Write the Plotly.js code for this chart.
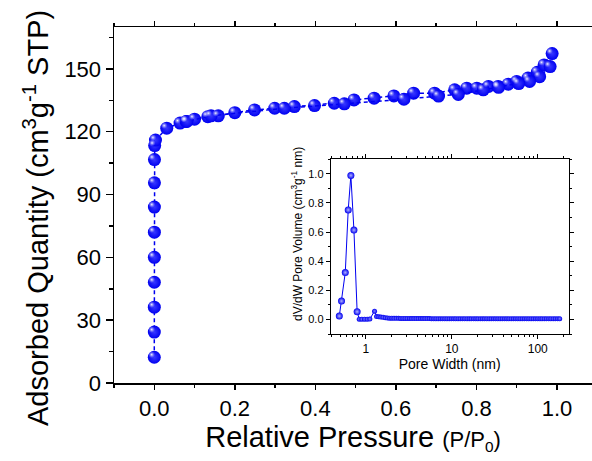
<!DOCTYPE html>
<html>
<head>
<meta charset="utf-8">
<script src="https://cdn.plot.ly/plotly-3.0.1.min.js"></script>
<style>html,body{margin:0;padding:0;background:#fff;}#chart{width:592px;height:461px;}</style>
</head>
<body>
<div id="chart"></div>
<script>
// ---- Main isotherm (adsorption branch) ----
const adsP = [0.0000, 0.0001, 0.0001, 0.0002, 0.0002, 0.0003, 0.0003, 0.0004, 0.0005, 0.001, 0.003,
  0.031, 0.064, 0.079, 0.100, 0.133, 0.159, 0.200, 0.249, 0.299, 0.348, 0.398, 0.447, 0.496,
  0.546, 0.595, 0.644, 0.696, 0.746, 0.776, 0.801, 0.830, 0.854, 0.879, 0.900, 0.928, 0.951, 0.968, 0.988];
const adsQ = [12.3, 24.3, 36.2, 48.1, 60.0, 72.0, 84.0, 95.6, 106.7, 113.4, 116.0,
  121.7, 124.1, 124.9, 126.0, 127.2, 127.6, 129.1, 130.4, 131.2, 132.0, 132.5, 133.6, 135.2,
  136.0, 137.1, 138.4, 138.4, 140.0, 140.8, 140.8, 141.6, 141.6, 142.7, 144.0, 145.6, 148.4, 151.9, 157.3];
// ---- Main isotherm (desorption branch) ----
const desP = [0.983, 0.957, 0.932, 0.905, 0.855, 0.817, 0.755, 0.706, 0.620, 0.472, 0.323, 0.141, 0.081];
const desQ = [151.1, 146.3, 144.0, 143.0, 141.2, 140.0, 137.8, 137.0, 135.5, 133.3, 131.2, 127.6, 124.9];

// ---- Inset: pore size distribution ----
const widthMicro = [0.49, 0.52, 0.575, 0.622, 0.668, 0.725, 0.79];
const dvMicro = [0.023, 0.126, 0.322, 0.752, 0.989, 0.614, 0.053];
const widthMeso = [0.836, 0.897, 0.964, 1.035, 1.11, 1.26, 1.33, 1.41, 1.49, 1.58, 1.68, 1.78, 1.89, 2.0,
  2.12, 2.25, 2.39, 2.53, 2.69, 2.85, 3.02, 3.21, 3.4, 3.61, 3.83, 4.06, 4.31, 4.57, 4.85, 5.15, 5.46,
  5.79, 6.15, 6.52, 6.92, 7.34, 7.79, 8.27, 8.77, 9.31, 9.88, 10.5, 11.1, 11.8, 12.5, 13.3, 14.1, 15.0,
  15.9, 16.8, 17.9, 19.0, 20.1, 21.4, 22.7, 24.0, 25.5, 27.1, 28.7, 30.5, 32.3, 34.3, 36.4, 38.6, 41.0,
  43.5, 46.1, 49.0, 52.0, 55.1, 58.5, 62.1, 65.9, 69.9, 74.2, 78.7, 83.5, 88.6, 94.0, 99.8, 106, 112,
  119, 126, 134, 142, 151, 160, 170, 180];
const dvMeso = [0.002, 0.002, 0.002, 0.002, 0.003, 0.057, 0.020, 0.018, 0.016, 0.015, 0.012, 0.010, 0.009, 0.009,
  0.008, 0.008, 0.008, 0.007, 0.007, 0.007, 0.007, 0.007, 0.006, 0.006, 0.006, 0.006, 0.006, 0.006, 0.006, 0.006, 0.006,
  0.005, 0.005, 0.005, 0.005, 0.005, 0.005, 0.005, 0.005, 0.005, 0.005, 0.005, 0.005, 0.005, 0.005, 0.005, 0.005, 0.005,
  0.005, 0.005, 0.005, 0.005, 0.005, 0.005, 0.005, 0.005, 0.005, 0.005, 0.005, 0.005, 0.005, 0.005, 0.005, 0.005, 0.005,
  0.005, 0.005, 0.005, 0.005, 0.005, 0.005, 0.005, 0.005, 0.005, 0.005, 0.005, 0.005, 0.005, 0.005, 0.005, 0.005, 0.005,
  0.005, 0.005, 0.005, 0.005, 0.005, 0.005, 0.005, 0.005];

const FONT = 'Liberation Sans, Arial, sans-serif';
const BLUE = '#0000f0';

// layout geometry (pixels)
const W = 592, H = 461, ML = 114, MR = 0, MT = 27, MB = 78;
const PW = W - ML - MR, PH = H - MT - MB;
const xRange = [-0.1, 1.087], yRange = [0, 170];
const pxPerX = PW / (xRange[1] - xRange[0]);
const pxPerY = PH / (yRange[1] - yRange[0]);
const hl = 2.6; // highlight offset in px
const insetXRange = [-0.41, 2.36];

const sphere = (size) => ({
  size: size, color: BLUE, line: {width: 0},
  gradient: {type: 'radial', color: '#3838ff'}
});
const shine = (size) => ({
  size: size, color: 'rgba(150,150,255,0.0)', line: {width: 0},
  gradient: {type: 'radial', color: 'rgba(255,255,255,0.95)'}
});

const traces = [
  {x: adsP, y: adsQ, type: 'scatter', mode: 'lines+markers', xaxis: 'x', yaxis: 'y',
   line: {color: BLUE, width: 1.5, dash: '4px,3px'}, marker: sphere(13), hoverinfo: 'skip'},
  {x: desP, y: desQ, type: 'scatter', mode: 'lines+markers', xaxis: 'x', yaxis: 'y',
   line: {color: BLUE, width: 1.5, dash: '4px,3px'}, marker: sphere(13), hoverinfo: 'skip'},
  {x: adsP, y: adsQ, type: 'scatter', mode: 'markers', xaxis: 'x3', yaxis: 'y3',
   marker: shine(7), hoverinfo: 'skip'},
  {x: desP, y: desQ, type: 'scatter', mode: 'markers', xaxis: 'x3', yaxis: 'y3',
   marker: shine(7), hoverinfo: 'skip'},
  {x: widthMicro.concat(widthMeso), y: dvMicro.concat(dvMeso), type: 'scatter', mode: 'lines',
   xaxis: 'x2', yaxis: 'y2', line: {color: BLUE, width: 1}, hoverinfo: 'skip'},
  {x: widthMeso, y: dvMeso, type: 'scatter', mode: 'markers', xaxis: 'x2', yaxis: 'y2',
   marker: {size: 5, color: BLUE, line: {width: 0}, gradient: {type: 'radial', color: '#8080ff'}}, hoverinfo: 'skip'},
  {x: widthMicro, y: dvMicro, type: 'scatter', mode: 'markers', xaxis: 'x2', yaxis: 'y2',
   marker: {size: 7, color: BLUE, line: {width: 0}, gradient: {type: 'radial', color: '#b0b0ff'}}, hoverinfo: 'skip'}
];

const insetDomX = [(330.7 - ML) / PW, (568.7 - ML) / PW];
const insetDomY = [(H - MB - 334) / PH, (H - MB - 159.3) / PH];

const axisBase = {
  showgrid: false, zeroline: false, showline: true, linecolor: 'black', linewidth: 1.5,
  ticks: 'outside', tickcolor: 'black', tickwidth: 1.5, color: 'black'
};

const layout = {
  width: W, height: H,
  margin: {l: ML, r: MR, t: MT, b: MB, pad: 0},
  paper_bgcolor: 'white', plot_bgcolor: 'rgba(0,0,0,0)',
  showlegend: false,
  font: {family: FONT, color: 'black'},
  xaxis: Object.assign({}, axisBase, {
    range: xRange, dtick: 0.2, tick0: 0, tickformat: '.1f', ticklen: 5, mirror: 'ticks',
    minor: {dtick: 0.1, tick0: 0, ticks: 'outside', ticklen: 3, tickwidth: 1.5, tickcolor: 'black'},
    tickfont: {size: 22, family: FONT},
    title: {text: 'Relative Pressure <span style="font-size:22px">(P/P<sub>0</sub>)</span>',
            font: {size: 29, family: FONT}, standoff: 4}
  }),
  yaxis: Object.assign({}, axisBase, {
    range: yRange, dtick: 30, tick0: 0, ticklen: 7, mirror: 'ticks',
    minor: {dtick: 15, tick0: 0, ticks: 'outside', ticklen: 4, tickwidth: 1.5, tickcolor: 'black'},
    tickfont: {size: 22, family: FONT}
  }),
  xaxis3: {overlaying: 'x', anchor: 'y3', visible: false,
    range: [xRange[0] + hl / pxPerX, xRange[1] + hl / pxPerX]},
  yaxis3: {overlaying: 'y', anchor: 'x3', visible: false,
    range: [yRange[0] - hl / pxPerY, yRange[1] - hl / pxPerY]},
  xaxis2: Object.assign({}, axisBase, {
    domain: insetDomX, anchor: 'y2', type: 'log', range: insetXRange, dtick: 1,
    linewidth: 1, tickwidth: 1, ticklen: 4, mirror: 'allticks',
    minor: {dtick: 'D1', ticks: 'outside', ticklen: 2, tickwidth: 1, tickcolor: 'black'},
    tickfont: {size: 12, family: FONT},
    title: {text: 'Pore Width (nm)', font: {size: 14, family: FONT}, standoff: 2}
  }),
  yaxis2: Object.assign({}, axisBase, {
    domain: insetDomY, anchor: 'x2', range: [-0.1, 1.1], dtick: 0.2, tick0: 0, tickformat: '.1f',
    linewidth: 1, tickwidth: 1, ticklen: 4, mirror: 'allticks',
    minor: {dtick: 0.1, tick0: 0, ticks: 'outside', ticklen: 2, tickwidth: 1, tickcolor: 'black'},
    tickfont: {size: 11, family: FONT}
  }),
  annotations: [
    {text: 'Adsorbed Quantity (cm<sup>3</sup>g<sup>-1</sup> STP)', textangle: -90,
     xref: 'paper', yref: 'paper', x: (36 - ML) / PW, y: (H - MB - 218) / PH,
     xanchor: 'center', yanchor: 'middle', showarrow: false,
     font: {size: 29, family: FONT, color: 'black'}},
    {text: 'dV/dW Pore Volume (cm<sup>3</sup>g<sup>-1</sup> nm)', textangle: -90,
     xref: 'paper', yref: 'paper', x: (297 - ML) / PW, y: (H - MB - 234) / PH,
     xanchor: 'center', yanchor: 'middle', showarrow: false,
     font: {size: 12, family: FONT, color: 'black'}}
  ]
};

Plotly.newPlot('chart', traces, layout, {staticPlot: true, displayModeBar: false});
</script>
</body>
</html>
